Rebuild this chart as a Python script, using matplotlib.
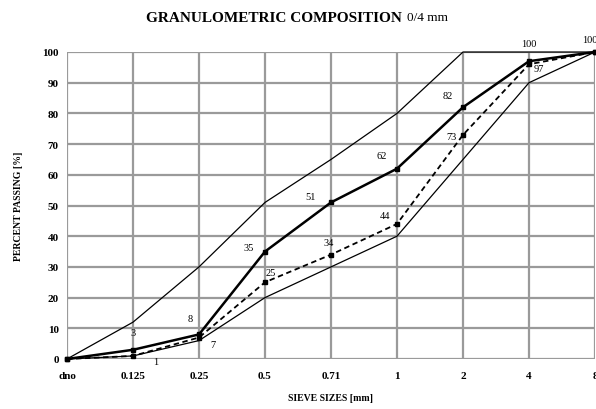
import matplotlib
matplotlib.use("Agg")
import matplotlib.pyplot as plt

# sieve sizes (categorical axis, equally spaced)
sieves = ["dno", "0.125", "0.25", "0.5", "0.71", "1", "2", "4", "8"]
upper_limit = [0, 12, 30, 51, 65, 80, 100, 100, 100]
lower_limit = [0, 1, 6, 20, 30, 40, 65, 90, 100]
sample_a = [0, 3, 8, 35, 51, 62, 82, 97, 100]   # thick solid
sample_b = [0, 1, 7, 25, 34, 44, 73, 96, 100]   # dashed

labels_a = ["", "3", "8", "35", "51", "62", "82", "", "100"]
labels_b = ["", "1", "7", "25", "34", "44", "73", "97", ""]
top_label_x = 7          # extra "100" over sieve 4
top_label_txt = "100"

plt.rcParams['font.family'] = ['Liberation Serif', 'DejaVu Serif']

fig = plt.figure(figsize=(5.96, 4.10), dpi=100)
ax = fig.add_axes([67/596, 50/410, 528/596, 307/410])

x = list(range(len(sieves)))

ax.plot(x, upper_limit, color='black', lw=0.9, clip_on=False, zorder=3)
ax.plot(x, lower_limit, color='black', lw=0.9, clip_on=False, zorder=3)
ax.plot(x, sample_b, color='black', lw=1.3, ls=(0, (3, 2)), marker='s', ms=3,
        clip_on=False, zorder=4)
ax.plot(x, sample_a, color='black', lw=1.8, marker='s', ms=3.5,
        clip_on=False, zorder=5)

# value labels
off_a = [(0, 0), (0, 9), (-6, 8), (-12, 0), (-15, 1), (-11, 6), (-11, 5), (0, 0), (-4, 6)]
off_b = [(0, 0), (16, -4), (10, -5), (4, 7), (-2, 9), (-9, 6), (-8, -1), (7, -3), (0, 0)]
for i in x:
    if labels_a[i]:
        ax.annotate(labels_a[i], (i, sample_a[i]), xytext=off_a[i], textcoords='offset points',
                    ha='center', va='bottom', fontsize=7.5, annotation_clip=False)
    if labels_b[i]:
        ax.annotate(labels_b[i], (i, sample_b[i]), xytext=off_b[i], textcoords='offset points',
                    ha='center', va='center', fontsize=7.5, annotation_clip=False)
ax.annotate(top_label_txt, (top_label_x, 100), xytext=(0, 3), textcoords='offset points',
            ha='center', va='bottom', fontsize=7.5, annotation_clip=False)

ax.set_xlim(0, len(sieves) - 1)
ax.set_ylim(0, 100)
ax.set_xticks(x)
ax.set_xticklabels(sieves, fontsize=8, fontweight='bold')
ax.set_yticks(range(0, 101, 10))
ax.set_yticklabels([str(v) for v in range(0, 101, 10)], fontsize=8, fontweight='bold')
ax.tick_params(axis='x', length=0, pad=9)
ax.tick_params(axis='y', length=0, pad=6)
ax.grid(True, color='#9a9a9a', lw=1.6)
ax.set_axisbelow(True)
for s in ax.spines.values():
    s.set_visible(False)

ax.set_xlabel("SIEVE SIZES [mm]", fontsize=7, fontweight='bold', labelpad=9)
ax.set_ylabel("PERCENT PASSING [%]", fontsize=7, fontweight='bold', labelpad=14)

fig.text(402/596, 0.955, "GRANULOMETRIC COMPOSITION", fontsize=11, fontweight='bold',
         ha='right', va='center')
fig.text(407/596, 0.955, "0/4 mm", fontsize=9.5, ha='left', va='center')

fig.savefig("out.png", dpi=100)
